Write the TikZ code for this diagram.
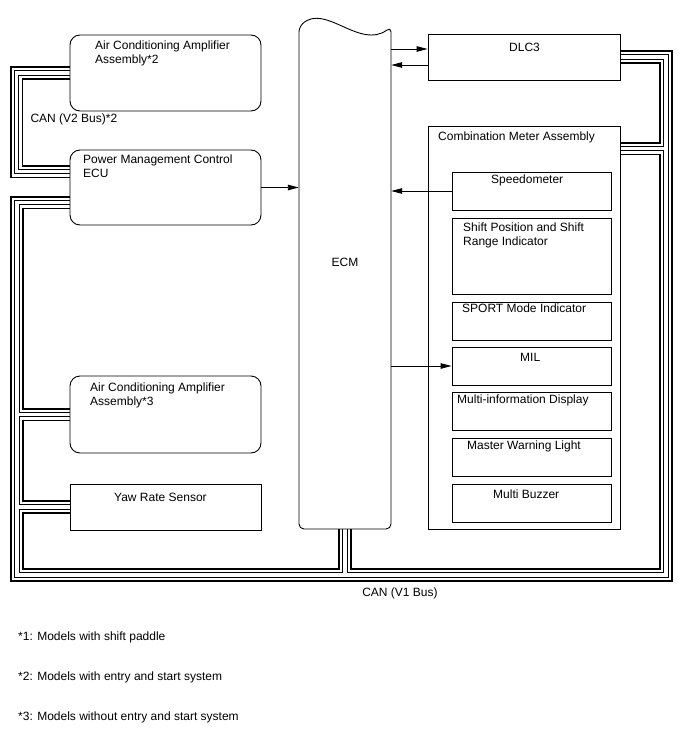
\documentclass[tikz,border=0pt]{standalone}
\usepackage{fontspec}
\setmainfont{Liberation Sans}
\usetikzlibrary{arrows.meta, fit, backgrounds}

\begin{document}
\begin{tikzpicture}[x=1pt, y=-1pt,
    font=\fontsize{12}{14}\selectfont,
    box/.style={draw, line width=0.9pt, inner sep=0pt},
    rbox/.style={box, rounded corners=10pt},
    txt/.style={anchor=north west, inner sep=0pt, align=left},
    sig/.style={line width=0.9pt, -{Triangle[length=11pt, width=5.5pt]}}]
  \useasboundingbox (0,0) rectangle (688,755);

  % Left column
  \node[rbox, fit={(70,35) (261,111)}] (ac2) {};
  \node[rbox, fit={(70,150) (261,225)}] (pm) {};
  \node[rbox, fit={(70,376) (261,453)}] (ac3) {};
  \node[box, fit={(70,484) (261,530)}] (yaw) {};
  \node[txt] (ac2txt) at (95,41) {Air Conditioning Amplifier\\Assembly*2};
  \node[txt] (pmtxt) at (83,155) {Power Management Control\\ECU};
  \node[txt] (ac3txt) at (90,383) {Air Conditioning Amplifier\\Assembly*3};
  \node[txt] (yawtxt) at (114,493) {Yaw Rate Sensor};

  % ECM
  \draw[line width=0.9pt, rounded corners=5pt] (299,27) .. controls (325,3) and (360,50) .. (391,27)
    -- (391,529) -- (299,529) -- cycle;
  \node[inner sep=0pt, fit={(299,27) (391,529)}] (ecm) {};
  \node (ecmtxt) at (345,262) {ECM};

  % Right column
  \node[box, fit={(428,34) (620,80)}] (dlc) {};
  \node[box, fit={(428,126) (620,529)}] (cm) {};
  \node[box, fit={(452,172) (611,210)}] (spd) {};
  \node[box, fit={(452,218) (611,294)}] (shift) {};
  \node[box, fit={(452,302) (611,340)}] (sport) {};
  \node[box, fit={(452,347) (611,385)}] (mil) {};
  \node[box, fit={(452,392) (611,430)}] (mfd) {};
  \node[box, fit={(452,438) (611,476)}] (mwl) {};
  \node[box, fit={(452,484) (611,522)}] (buzz) {};
  \node[txt] (dlctxt) at (509,43) {DLC3};
  \node[txt] (cmtxt) at (438,132) {Combination Meter Assembly};
  \node[txt] (spdtxt) at (491,175) {Speedometer};
  \node[txt] (shifttxt) at (463,223) {Shift Position and Shift\\Range Indicator};
  \node[txt] (sporttxt) at (462,304) {SPORT Mode Indicator};
  \node[txt] (miltxt) at (520,353) {MIL};
  \node[txt] (mfdtxt) at (457,395) {Multi-information Display};
  \node[txt] (mwltxt) at (467,441) {Master Warning Light};
  \node[txt] (buzztxt) at (493,490) {Multi Buzzer};

  % Signals
  \draw[sig] ([yshift=8pt]dlc.west -| ecm.east) -- ([yshift=8pt]dlc.west);
  \draw[sig] ([yshift=-8pt]dlc.west) -- ([yshift=-8pt]dlc.west -| ecm.east);
  \draw[sig] (pm.east) -- (pm.east -| ecm.west);
  \draw[sig] (spd.west) -- (spd.west -| ecm.east);
  \draw[sig] (mil.west -| ecm.east) -- (mil.west);

  % CAN buses
  \coordinate (v2bot) at (16.5,171.5);
  \coordinate (v1top) at (17,202.5);
  \coordinate (v1sw) at (17,575);
  \coordinate (v1se) at (666,575);
  \coordinate (cmbus) at (666,148.5);
  \begin{scope}[on background layer]
    \foreach \w/\col in {13.5/black, 10/white, 5.5/black, 3.5/white} {
      \begin{scope}[line width=\w pt, draw=\col]
        \draw (ac2.west) -| (v2bot) -- (v2bot -| pm.west);
        \draw (v1top -| pm.west) -- (v1top) -- (v1sw) -- (v1se) |- (dlc.east);
        \draw (ac3.west) -- (ac3.west -| v1sw);
        \draw (yaw.west) -- (yaw.west -| v1sw);
        \draw (ecm.south) -- (ecm.south |- v1sw);
        \draw (cmbus -| cm.east) -- (cmbus);
      \end{scope}
    }
  \end{scope}
  \node[anchor=west] (v2lbl) at (27,119) {CAN (V2 Bus)*2};
  \node (v1lbl) at (400,593) {CAN (V1 Bus)};

  % Notes
  \node[anchor=west, inner sep=0pt] (note1) at (18,637) {*1: Models with shift paddle};
  \node[anchor=west, inner sep=0pt] (note2) at (18,677) {*2: Models with entry and start system};
  \node[anchor=west, inner sep=0pt] (note3) at (18,717) {*3: Models without entry and start system};
\end{tikzpicture}
\end{document}
